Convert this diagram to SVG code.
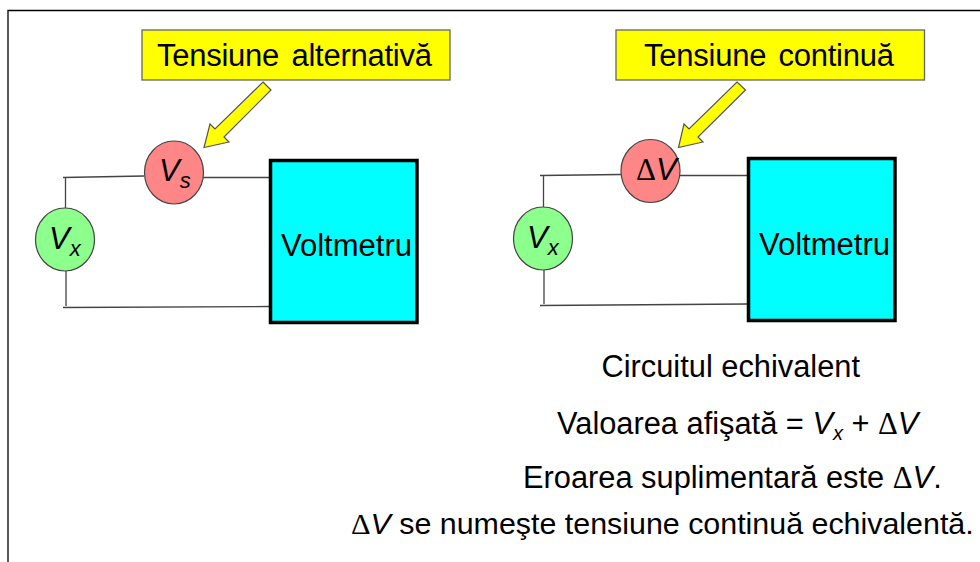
<svg xmlns="http://www.w3.org/2000/svg" width="980" height="562" viewBox="0 0 980 562">
<defs>
<style>
text{font-family:"Liberation Sans",Arial,sans-serif;fill:#000}
.big{font-size:31px}
.body{font-size:30.800px}
.i{font-style:italic}
.d{font-family:"Liberation Serif","Times New Roman",serif}
.wire{stroke:#444;stroke-width:1.3;fill:none}
.label{fill:#ff0;stroke:#666;stroke-width:1.3}
.arrow{fill:#ff0;stroke:#555;stroke-width:1.2;stroke-linejoin:miter}
.src{stroke:#444;stroke-width:1.2}
.red{fill:#ff8686}
.green{fill:#8cff8c}
.box{fill:#0ff;stroke:#000;stroke-width:3.5}
</style>
</defs>
<rect width="980" height="562" fill="#fff"/>
<path id="frame" d="M8 562V10.500H980" fill="none" stroke="#000" stroke-width="1.300"/>
<g id="connectors">
<path class="wire" d="M63 177.500L144 176M203 177.500H270M65.500 177V208M66 271V306M63 307.500L270 306.500"/>
<path class="wire" d="M540 175.500L621 174.500M680 175.500H748M543.500 175V207M544 270V304M540 305.500L748 304"/>
</g>
<g id="label-alternativa">
<rect class="label" x="142" y="30" width="308" height="50"/>
<text class="big" x="157" y="66" textLength="275" lengthAdjust="spacing" word-spacing="4">Tensiune alternativă</text>
</g>
<g id="arrow-alternativa"><path class="arrow" d="M263 82L271 90L224 137L229 142L204 147.500L210 124L215 129Z"/></g>
<g id="label-continua">
<rect class="label" x="616" y="30" width="308.500" height="50"/>
<text class="big" x="644" y="66" textLength="250" lengthAdjust="spacing" word-spacing="4">Tensiune continuă</text>
</g>
<g id="arrow-continua"><path class="arrow" d="M737 82L745.500 90L698 137L703 142L678.500 147.500L684 124L689 129Z"/></g>
<g id="node-vs">
<ellipse class="src red" cx="174" cy="172.500" rx="29.500" ry="31.500"/>
<text class="big i" x="159" y="181">V<tspan font-size="22" dy="7">s</tspan></text>
</g>
<g id="node-vx-left">
<ellipse class="src green" cx="65" cy="239.500" rx="29.500" ry="31.500"/>
<text class="big i" x="49" y="249">V<tspan font-size="22" dy="7">x</tspan></text>
</g>
<g id="voltmetru-left">
<rect class="box" x="270.500" y="160.500" width="146.500" height="162"/>
<text class="big" x="281" y="256">Voltmetru</text>
</g>
<g id="node-dv">
<ellipse class="src red" cx="650.500" cy="171" rx="29.500" ry="31.500"/>
<text class="big" x="636" y="180"><tspan class="d">Δ</tspan><tspan class="i">V</tspan></text>
</g>
<g id="node-vx-right">
<ellipse class="src green" cx="543" cy="238.500" rx="29.500" ry="31.500"/>
<text class="big i" x="527" y="248">V<tspan font-size="22" dy="7">x</tspan></text>
</g>
<g id="voltmetru-right">
<rect class="box" x="748.500" y="158.500" width="146.500" height="162"/>
<text class="big" x="759" y="255">Voltmetru</text>
</g>
<g id="notes">
<text class="body" x="601.500" y="377">Circuitul echivalent</text>
<text class="body" x="557" y="434">Valoarea afişată = <tspan class="i">V</tspan><tspan class="i" font-size="20" dy="6">x</tspan><tspan dy="-6"> + </tspan><tspan class="d">Δ</tspan><tspan class="i">V</tspan></text>
<text class="body" x="523" y="488">Eroarea suplimentară este <tspan class="d">Δ</tspan><tspan class="i">V</tspan>.</text>
<text class="body" x="351" y="534" font-size="30.400" style="font-size:30.400px"><tspan class="d">Δ</tspan><tspan class="i">V</tspan> se numeşte tensiune continuă echivalentă.</text>
</g>
</svg>
